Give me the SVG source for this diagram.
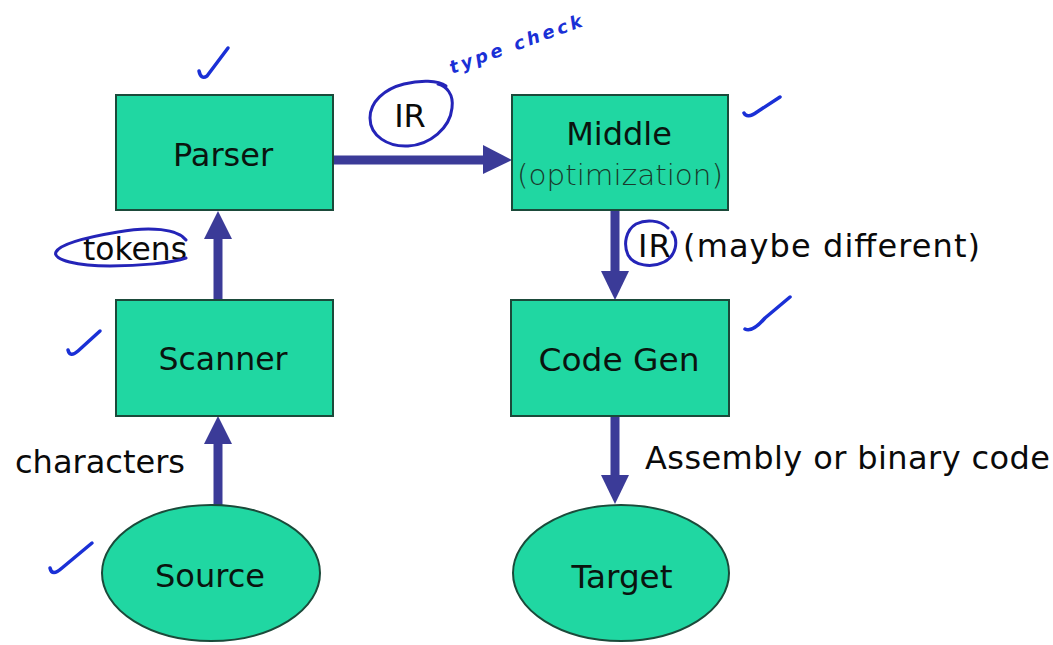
<svg xmlns="http://www.w3.org/2000/svg" width="1053" height="645" viewBox="0 0 1053 645">
  <style>
    .box { fill: #20D7A2; stroke: #1B4A3A; stroke-width: 2; }
    .lbl { font-family: "DejaVu Sans", Verdana, sans-serif; font-size: 32px; fill: #0A140F; text-anchor: middle; }
    .lite { font-family: "DejaVu Sans", Verdana, sans-serif; font-weight: 300; font-size: 29px; fill: #1A3A2C; text-anchor: middle; }
    .txt { font-family: "DejaVu Sans", Verdana, sans-serif; font-size: 32px; fill: #0A0A0A; }
    .edge { stroke: #3B3B98; stroke-width: 9; fill: none; }
    .head { fill: #3B3B98; }
    .ink { stroke: #2424B8; stroke-width: 3; fill: none; stroke-linecap: round; stroke-linejoin: round; }
    .tick { stroke: #1A30D6; stroke-width: 3.5; fill: none; stroke-linecap: round; stroke-linejoin: round; }
    .hand { font-family: "DejaVu Sans", sans-serif; font-style: italic; font-weight: bold; font-size: 18px; fill: #1A30D6; }
  </style>

  <rect width="1053" height="645" fill="#FFFFFF"/>

  <!-- connectors -->
  <g id="connectors">
    <!-- Parser -> Middle -->
    <line class="edge" x1="333" y1="160" x2="485" y2="160"/>
    <polygon class="head" points="483,145 512,160 483,174"/>
    <!-- Scanner -> Parser -->
    <line class="edge" x1="218" y1="300" x2="218" y2="236"/>
    <polygon class="head" points="204,239 218,211 232,239"/>
    <!-- Source -> Scanner -->
    <line class="edge" x1="218" y1="505" x2="218" y2="441"/>
    <polygon class="head" points="204,444 218,416 232,444"/>
    <!-- Middle -> Code Gen -->
    <line class="edge" x1="615" y1="210" x2="615" y2="274"/>
    <polygon class="head" points="601,271 615,300 629,271"/>
    <!-- Code Gen -> Target -->
    <line class="edge" x1="615" y1="416" x2="615" y2="478"/>
    <polygon class="head" points="601,475 615,504 629,475"/>
  </g>

  <!-- nodes -->
  <g id="parser">
    <rect class="box" x="116" y="95" width="217" height="115"/>
    <text class="lbl" x="223" y="166">Parser</text>
  </g>
  <g id="middle">
    <rect class="box" x="512" y="95" width="216" height="115"/>
    <text class="lbl" x="619" y="145">Middle</text>
    <text class="lite" x="620" y="185" textLength="206" lengthAdjust="spacingAndGlyphs">(optimization)</text>
  </g>
  <g id="scanner">
    <rect class="box" x="116" y="300" width="217" height="116"/>
    <text class="lbl" x="223" y="370" textLength="129" lengthAdjust="spacingAndGlyphs">Scanner</text>
  </g>
  <g id="codegen">
    <rect class="box" x="511" y="300" width="218" height="116"/>
    <text class="lbl" x="619" y="371" textLength="161" lengthAdjust="spacingAndGlyphs">Code Gen</text>
  </g>
  <g id="source">
    <ellipse class="box" cx="211" cy="573" rx="109" ry="68"/>
    <text class="lbl" x="210" y="587" textLength="110" lengthAdjust="spacingAndGlyphs">Source</text>
  </g>
  <g id="target">
    <ellipse class="box" cx="621" cy="573" rx="108" ry="68"/>
    <text class="lbl" x="622" y="588" textLength="101" lengthAdjust="spacingAndGlyphs">Target</text>
  </g>

  <!-- edge labels -->
  <g id="labels">
    <text class="txt" x="410" y="127" font-size="34" text-anchor="middle">IR</text>
    <text class="txt" x="83" y="260" font-size="31" textLength="104" lengthAdjust="spacingAndGlyphs">tokens</text>
    <text class="txt" x="15" y="473" textLength="170" lengthAdjust="spacingAndGlyphs">characters</text>
    <text class="txt" x="638" y="257" textLength="342" lengthAdjust="spacing">IR (maybe different)</text>
    <text class="txt" x="645" y="469" textLength="405" lengthAdjust="spacing">Assembly or binary code</text>
  </g>

  <!-- pen annotations -->
  <g id="annotations">
    <path class="ink" d="M446,86 C438,80 420,80 404,84 C384,89 370,102 370,118 C370,136 388,147 408,146 C430,145 450,128 452,108 C454,94 446,86 438,84"/>
    <path class="ink" d="M186,240 C178,229 150,226 118,232 C88,237 60,244 56,252 C52,260 78,266 110,266 C140,266 172,263 186,258"/>
    <path class="ink" d="M668,228 C660,220 646,219 636,224 C626,230 623,244 628,255 C634,266 652,268 664,262 C676,256 679,241 672,232"/>
    <text class="hand" x="452" y="74" transform="rotate(-20 452 74)" textLength="140" lengthAdjust="spacing">type check</text>
    <path class="tick" d="M199,71 Q201,80 207,76 L228,48"/>
    <path class="tick" d="M744,113 Q747,119 757,112 L780,97"/>
    <path class="tick" d="M745,329 Q752,333 765,318 L790,297"/>
    <path class="tick" d="M68,350 Q70,358 78,351 L100,331"/>
    <path class="tick" d="M50,568 Q52,577 62,568 L92,543"/>
  </g>
</svg>
